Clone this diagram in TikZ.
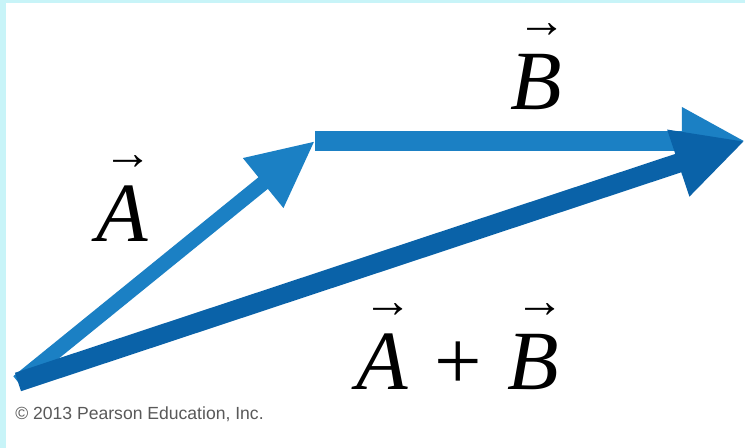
\documentclass[tikz,border=0pt]{standalone}
\usepackage{fontspec}
\setmainfont{Liberation Serif}
\newfontfamily\notefont{Liberation Sans}
\usetikzlibrary{arrows.meta}
\definecolor{vecblue}{HTML}{1B80C4}
\definecolor{sumblue}{HTML}{0A62A8}
\definecolor{edgecyan}{HTML}{C8F4F8}
\newcommand{\vlabel}[1]{\begin{tabular}[b]{@{}c@{}}%
  {\fontsize{28}{28}\selectfont\hspace*{7pt}→}\\[-9pt]\textit{#1}\end{tabular}}

\begin{document}
\begin{tikzpicture}[
    x=0.02cm, y=-0.02cm,
    vecA/.style={draw=vecblue, line width=8.5pt,
                 -{Triangle[length=38pt, width=34pt]}},
    vecB/.style={draw=vecblue, line width=11pt,
                 -{Triangle[length=36pt, width=36pt]}},
    vecsum/.style={draw=sumblue, line width=11pt,
                   -{Triangle[length=40pt, width=37pt]}},
    lbl/.style={font=\fontsize{48}{50}\selectfont, inner sep=0pt},
]
% frame
\fill[white] (0,0) rectangle (745,448);
\fill[edgecyan] (0,0) rectangle (6,448);
\fill[edgecyan] (0,0) rectangle (745,3);
\useasboundingbox (0,0) rectangle (745,448);

% vector ends
\coordinate (tail) at (18,382);
\coordinate (head) at (315,141);
\coordinate (tip)  at (745,141);

% vectors
\draw[vecA] (tail) -- (head);
\draw[vecB] (head) -- (tip);
\draw[vecsum] (tail) -- (tip);

% labels
\node[lbl, anchor=base] (labA)   at (122,242) {\vlabel{A}};
\node[lbl, anchor=base] (labB)   at (536,110) {\vlabel{B}};
\node[lbl, anchor=base] (labsum) at (458,390)
     {\vlabel{A}\hspace{12pt}+\hspace{12pt}\vlabel{B}};

% credit line
\node[anchor=west, inner sep=0pt, text=black!65,
      font=\notefont\fontsize{10}{12}\selectfont] (credit) at (15,414)
      {\textcopyright{} 2013 Pearson Education, Inc.};
\end{tikzpicture}
\end{document}
